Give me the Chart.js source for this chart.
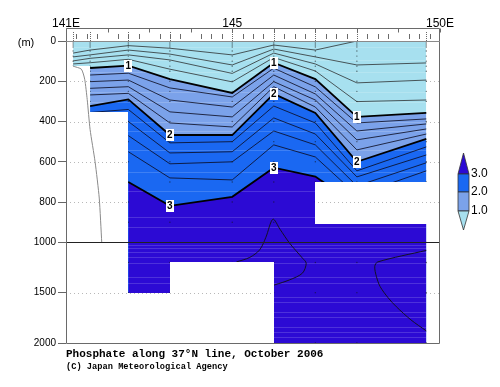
<!DOCTYPE html>
<html><head><meta charset="utf-8">
<script src="https://cdn.jsdelivr.net/npm/chart.js@4.4.0/dist/chart.umd.min.js"></script>
<style>html,body{margin:0;padding:0;background:#fff;}canvas{display:block;}</style>
</head><body>
<canvas id="c" width="500" height="387"></canvas>
<script>
// ---------------- data ----------------
const stationLon = [141.17, 141.58, 142.5, 143.5, 145.0, 146.0, 147.0, 148.0, 149.67];
// depth (m) of each phosphate contour at each station (null = no data)
const c02 = [60, 45, 23, 36, 69, 20, 45, 0, 0];
const c04 = [79, 69, 45, 65, 119, 40, 79, 119, 109];
const c06 = [99, 86, 69, 94, 161, 60, 114, 208, 194];
const c08 = [114, 108, 91, 140, 203, 82, 149, 301, 293];
const c10 = [null, 134, 122, 189, 258, 108, 189, 377, 357];
const c12 = [null, 169, 160, 233, 278, 135, 228, 407, 387];
const c14 = [null, 202, 194, 293, 328, 169, 263, 447, 412];
const c16 = [null, 235, 227, 352, 377, 202, 293, 491, 437];
const c18 = [null, 268, 260, 407, 427, 227, 328, 541, 462];
const c20 = [null, 323, 290, 467, 467, 263, 357, 600, 486];
const c22 = [null, 355, 340, 506, 500, 323, 407, 645, 526];
const c24 = [null, null, 400, 556, 550, 382, 462, 675, 566];
const c26 = [null, null, 470, 610, 600, 447, 516, 720, 605];
const c28 = [null, null, 550, 680, 690, 516, 576, 765, 645];
const c30 = [null, null, 700, 819, 774, 629, 673, 815, 764];
// deep closed contours
const loopALon = [145.10, 145.42, 145.66, 145.81, 145.98, 146.15, 146.38, 146.69, 146.78, 146.69, 146.38, 146.02, 145.98];
const loopADep = [1195, 1150, 1075, 975, 885, 935, 1008, 1157, 1207, 1306, 1373, 1423, 1428];
const loopBLon = [149.67, 148.5, 148.43, 148.47, 148.56, 148.75, 148.95, 149.3, 149.67];
const loopBDep = [1080, 1195, 1240, 1340, 1440, 1550, 1640, 1770, 1880];
// bottom topography line
const bathyLon = [141.17, 141.37, 141.45, 141.51, 141.58, 141.70, 141.80, 141.86];
const bathyDep = [125, 140, 190, 290, 440, 600, 780, 1000];
// no-data areas (lon range, depth range)
const maskLon0 = [141.17, 141.58, 142.5, 143.5, 147.0];
const maskLon1 = [141.58, 142.5, 143.5, 146.0, 149.67];
const maskTop  = [123, 352, 1500, 1200, 700];
const maskBot  = [2000, 2000, 2000, 2000, 910];
// sampling depths (dots)
const sampleDepths = [0, 10, 20, 30, 50, 75, 100, 125, 150, 200, 250, 300, 400, 500, 600, 700, 800, 900, 1000, 1200, 1500, 2000];
const stripeDepths = [30, 94, 154, 253, 303, 402, 447, 541, 649, 744, 872, 925, 1025, 1055, 1092, 1141, 1204, 1340, 1403, 1539, 1589, 1689, 1744, 1838, 1888, 1937];
// contour labels
const labelText = ['1', '1', '1', '2', '2', '2', '3', '3'];
const labelContour = [c10, c10, c10, c20, c20, c20, c30, c30];
const labelStation = [2, 5, 7, 3, 5, 7, 3, 5];
// axes
const yTickDepths = [0, 200, 400, 600, 800, 1000, 1500, 2000];
const lonTickValues = [141, 145, 150];
const lonTickLabels = ['141E', '145', '150E'];
const legendLevels = ['1.0', '2.0', '3.0'];
const titleText = 'Phosphate along 37\u00B0N line, October 2006';
const creditText = '(C) Japan Meteorological Agency';

const COL_CYAN = '#a7e0ef', COL_LIGHT = '#7ba2ea', COL_BLUE = '#1a68f2', COL_INDIGO = '#2c0ad4';

// ------------- helpers -------------
const toT = d => d <= 1000 ? d : 1000 + (d - 1000) / 2;
const fromT = t => t <= 1000 ? t : 1000 + (t - 1000) * 2;
const pts = arr => stationLon.map((x, i) => ({x, y: arr[i] == null ? null : toT(arr[i])}));
const pairs = (lons, deps) => lons.map((x, i) => ({x, y: toT(deps[i])}));
const BOTTOM = toT(2000);

const datasets = [];
function fillDs(label, arr, color, order) {
  datasets.push({label, data: pts(arr), fill: {value: BOTTOM}, backgroundColor: color,
    borderWidth: 0, borderColor: 'rgba(0,0,0,0)', pointRadius: 0, tension: 0, order});
}
fillDs('cyan', stationLon.map(() => 0), COL_CYAN, 10);
fillDs('light', c10, COL_LIGHT, 9);
fillDs('blue', c20, COL_BLUE, 8);
fillDs('indigo', c30, COL_INDIGO, 7);
[c02, c04, c06, c08].forEach((a, i) => datasets.push({label: 'thinc' + i, data: pts(a), fill: false,
  borderColor: 'rgba(40,40,40,0.85)', borderWidth: 0.9, pointRadius: 0, tension: 0, order: 6}));
[c12, c14, c16, c18, c22, c24, c26, c28].forEach((a, i) => datasets.push({label: 'thin' + i, data: pts(a), fill: false,
  borderColor: 'rgba(10,10,30,0.9)', borderWidth: 0.9, pointRadius: 0, tension: 0, order: 6}));
datasets.push({label: 'loopA', data: pairs(loopALon, loopADep), fill: false, borderColor: '#111', borderWidth: 0.9, pointRadius: 0, tension: 0.3, order: 6});
datasets.push({label: 'loopB', data: pairs(loopBLon, loopBDep), fill: false, borderColor: '#111', borderWidth: 0.9, pointRadius: 0, tension: 0.3, order: 6});
[c10, c20, c30].forEach((a, i) => datasets.push({label: 'thick' + i, data: pts(a), fill: false,
  borderColor: '#000', borderWidth: 1.8, pointRadius: 0, tension: 0, order: 5}));
const dotData = [];
stationLon.forEach(x => sampleDepths.forEach(d => dotData.push({x, y: toT(d)})));
datasets.push({label: 'dots', data: dotData, showLine: false, pointRadius: 0.7, pointBorderWidth: 0,
  pointBackgroundColor: 'rgba(20,20,20,0.6)', order: 4});
datasets.push({label: 'bathy', data: pairs(bathyLon, bathyDep), fill: false, borderColor: '#8a8a8a',
  borderWidth: 1, pointRadius: 0, tension: 0.2, order: 1});

const deco = {
  id: 'deco',
  afterDatasetDraw(chart, args) {
    const ds = chart.data.datasets[args.index];
    const ctx = chart.ctx, xs = chart.scales.x, ys = chart.scales.y;
    if (ds.label === 'indigo') {
      ctx.save();
      ctx.strokeStyle = 'rgba(255,255,255,0.16)'; ctx.lineWidth = 1;
      const x0 = xs.getPixelForValue(stationLon[0]), x1 = xs.getPixelForValue(stationLon[stationLon.length - 1]);
      stripeDepths.forEach(d => {
        const y = Math.round(ys.getPixelForValue(toT(d))) + 0.5;
        ctx.beginPath(); ctx.moveTo(x0, y); ctx.lineTo(x1, y); ctx.stroke();
      });
      ctx.restore();
    }
    if (ds.label === 'dots') {
      ctx.save();
      ctx.globalCompositeOperation = 'destination-out';
      ctx.fillStyle = '#000';
      maskLon0.forEach((l0, i) => {
        let x0 = Math.round(xs.getPixelForValue(l0)), x1 = Math.round(xs.getPixelForValue(maskLon1[i]));
        if (i === 0) x0 -= 1;
        if (i === 4) x1 += 1;
        const y0 = Math.round(ys.getPixelForValue(toT(maskTop[i])));
        let y1 = Math.round(ys.getPixelForValue(toT(maskBot[i])));
        if (maskBot[i] >= 2000) y1 += 2;
        ctx.fillRect(x0, y0, x1 - x0, y1 - y0);
      });
      ctx.restore();
    }
  },
  afterDatasetsDraw(chart) {
    const ctx = chart.ctx, xs = chart.scales.x, ys = chart.scales.y, ca = chart.chartArea;
    const L = ca.left, R = ca.right, T = ca.top, B = ca.bottom;
    ctx.save();
    // dotted grid lines behind everything
    ctx.globalCompositeOperation = 'destination-over';
    ctx.strokeStyle = '#b8b8b8'; ctx.lineWidth = 1; ctx.setLineDash([1, 3]);
    yTickDepths.forEach(d => {
      if (d === 0 || d === 1000 || d === 2000) return;
      const y = Math.round(ys.getPixelForValue(toT(d))) + 0.5;
      ctx.beginPath(); ctx.moveTo(L, y); ctx.lineTo(R, y); ctx.stroke();
    });
    ctx.globalCompositeOperation = 'source-over';
    ctx.setLineDash([]);
    // 1000 m line
    const y1000 = Math.round(ys.getPixelForValue(toT(1000))) + 0.5;
    ctx.strokeStyle = '#222'; ctx.lineWidth = 1;
    ctx.beginPath(); ctx.moveTo(L, y1000); ctx.lineTo(R, y1000); ctx.stroke();
    // frame
    const topY = 28.5;
    ctx.strokeStyle = '#6a6a6a';
    ctx.beginPath();
    ctx.moveTo(L + 0.5, topY); ctx.lineTo(L + 0.5, B + 0.5);
    ctx.lineTo(R - 0.5, B + 0.5); ctx.lineTo(R - 0.5, topY); ctx.closePath();
    ctx.stroke();
    ctx.strokeStyle = '#8a8a8a';
    ctx.beginPath(); ctx.moveTo(L, T + 0.5); ctx.lineTo(R, T + 0.5); ctx.stroke();
    // top axis ticks
    ctx.strokeStyle = '#6a6a6a';
    for (let lon = 141; lon <= 150; lon += 1) {
      const x = Math.round(xs.getPixelForValue(lon)) + 0.5;
      ctx.beginPath(); ctx.moveTo(x, topY); ctx.lineTo(x, topY + 4); ctx.stroke();
    }
    for (let k = 1; k < 36; k++) {
      if (k % 4 === 0) continue;
      const x = Math.round(xs.getPixelForValue(141 + k * 0.25)) + 0.5;
      ctx.beginPath(); ctx.moveTo(x, 34); ctx.lineTo(x, 39); ctx.stroke();
    }
    ctx.setLineDash([1, 1]);
    stationLon.forEach(lon => {
      const x = Math.round(xs.getPixelForValue(lon)) + 0.5;
      ctx.beginPath(); ctx.moveTo(x, 32); ctx.lineTo(x, T); ctx.stroke();
    });
    ctx.setLineDash([]);
    // top labels
    ctx.fillStyle = '#000';
    ctx.font = '12px "Liberation Sans", Arial, sans-serif';
    ctx.textAlign = 'center'; ctx.textBaseline = 'alphabetic';
    lonTickValues.forEach((v, i) => ctx.fillText(lonTickLabels[i], xs.getPixelForValue(v), 27));
    ctx.font = '11px "Liberation Sans", Arial, sans-serif';
    ctx.textBaseline = 'middle';
    ctx.fillText('(m)', 26, T + 2);
    // contour labels
    ctx.font = 'bold 10px "Liberation Sans", Arial, sans-serif';
    labelText.forEach((t, i) => {
      const st = labelStation[i];
      const x = xs.getPixelForValue(stationLon[st]);
      const y = ys.getPixelForValue(toT(labelContour[i][st]));
      ctx.fillStyle = '#fff';
      ctx.fillRect(Math.round(x - 4), Math.round(y - 6), 8, 12);
      ctx.fillStyle = '#000';
      ctx.fillText(t, x, y + 0.5);
    });
    // colour bar
    const cx0 = 458, cx1 = 469, cxm = (cx0 + cx1) / 2;
    const yTip = 153, y3 = 174, y2 = 192, y1 = 211, yBot = 230;
    ctx.lineWidth = 0.8; ctx.strokeStyle = '#333';
    const poly = (p, col) => { ctx.beginPath(); ctx.moveTo(p[0][0], p[0][1]); p.slice(1).forEach(q => ctx.lineTo(q[0], q[1])); ctx.closePath(); ctx.fillStyle = col; ctx.fill(); ctx.stroke(); };
    poly([[cxm, yTip], [cx1, y3], [cx0, y3]], COL_INDIGO);
    poly([[cx0, y3], [cx1, y3], [cx1, y2], [cx0, y2]], COL_BLUE);
    poly([[cx0, y2], [cx1, y2], [cx1, y1], [cx0, y1]], COL_LIGHT);
    poly([[cx0, y1], [cx1, y1], [cxm, yBot]], COL_CYAN);
    ctx.fillStyle = '#000';
    ctx.font = '12px "Liberation Sans", Arial, sans-serif';
    ctx.textAlign = 'left'; ctx.textBaseline = 'middle';
    [y1, y2, y3].forEach((y, i) => ctx.fillText(legendLevels[i], 471, y));
    // titles
    ctx.textBaseline = 'alphabetic';
    ctx.font = 'bold 11px "Liberation Mono", "DejaVu Sans Mono", monospace';
    ctx.fillText(titleText, 66, 356.5);
    ctx.font = 'bold 8.7px "Liberation Mono", "DejaVu Sans Mono", monospace';
    ctx.fillText(creditText, 66, 369);
    ctx.restore();
  }
};

new Chart(document.getElementById('c'), {
  type: 'line',
  data: {datasets},
  options: {
    responsive: false, animation: false, events: [],
    layout: {padding: {left: 0, right: 60, top: 41, bottom: 44}},
    plugins: {legend: {display: false}, tooltip: {enabled: false}, title: {display: false}},
    scales: {
      x: {type: 'linear', min: 141, max: 150, display: false},
      y: {
        type: 'linear', min: 0, max: BOTTOM, reverse: true,
        afterFit(scale) { scale.width = 66; },
        afterBuildTicks(scale) { scale.ticks = yTickDepths.map(d => ({value: toT(d)})); },
        grid: {display: true, drawOnChartArea: false, drawTicks: true, tickLength: 8, color: '#666'},
        border: {display: false},
        ticks: {autoSkip: false, padding: 2, color: '#000',
          font: {family: '"Liberation Sans", Arial, sans-serif', size: 10},
          callback: v => String(fromT(v))}
      }
    }
  },
  plugins: [deco]
});
</script>
</body></html>
